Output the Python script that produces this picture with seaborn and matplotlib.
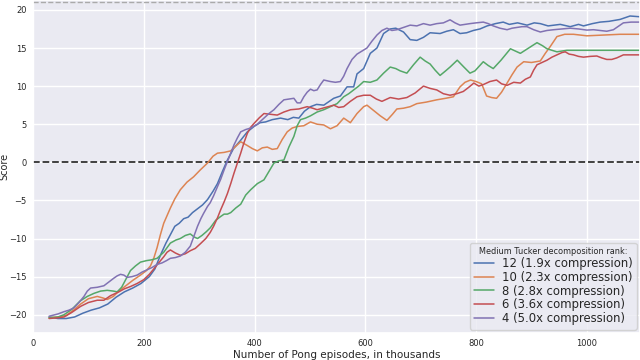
import numpy as np
import pandas as pd
import matplotlib
matplotlib.use("Agg")
import matplotlib.pyplot as plt
import seaborn as sns

labels = ["12 (1.9x compression)", "10 (2.3x compression)", "8 (2.8x compression)",
          "6 (3.6x compression)", "4 (5.0x compression)"]

blue_x = [29,45,60,75,90,105,120,135,150,165,180,195,210,220,230,240,248,256,264,272,280,288,297,306,315,325,333,342,351,362,375,387,399,410,420,432,447,460,470,480,490,501,512,525,543,555,567,579,585,597,609,621,633,645,655,669,681,693,705,717,735,747,759,771,783,795,807,820,835,849,860,875,892,905,916,930,952,970,985,994,1010,1024,1040,1060,1078,1096]
blue_y = [-20.3,-20.5,-20.5,-20.3,-19.8,-19.4,-19.1,-18.6,-17.7,-17.0,-16.5,-15.9,-15.0,-14.0,-12.2,-10.6,-9.5,-8.4,-8.0,-7.4,-7.2,-6.6,-6.1,-5.6,-4.9,-3.8,-2.8,-1.2,0.3,1.8,2.9,4.0,4.7,5.2,5.3,5.6,5.8,5.6,5.9,5.8,6.7,7.3,7.6,7.5,8.4,8.7,9.9,9.9,11.6,12.3,14.3,15.0,16.9,17.5,17.6,17.1,16.1,16.0,16.4,17.0,16.9,17.2,17.4,16.9,17.0,17.3,17.5,17.9,18.2,18.4,18.1,18.3,18.0,18.3,18.2,17.9,18.1,17.8,18.1,17.9,18.2,18.4,18.5,18.75,19.2,19.1]

orange_x = [29,45,60,75,86,100,116,126,134,145,155,164,180,194,205,212,218,224,230,236,242,248,256,266,278,290,302,315,325,333,345,357,366,375,387,396,405,414,423,432,441,450,459,468,477,489,501,513,525,537,549,561,573,585,597,603,615,627,639,649,657,669,681,693,710,729,745,759,771,780,790,800,810,819,828,837,846,856,865,874,886,900,916,925,934,946,960,976,1000,1030,1060,1096]
orange_y = [-20.4,-20.3,-20.1,-19.3,-18.6,-17.9,-17.6,-17.8,-18.0,-17.6,-16.9,-16.4,-15.5,-14.8,-14.2,-13.6,-12.6,-11.2,-9.5,-8.0,-7.0,-6.0,-4.8,-3.6,-2.6,-1.9,-1.0,-0.1,0.8,1.2,1.3,1.5,2.1,2.7,2.2,1.8,1.5,1.9,2.0,1.7,1.8,3.0,4.0,4.5,4.7,4.8,5.3,5.0,4.9,4.4,4.8,5.8,5.2,6.4,7.3,7.5,6.8,6.1,5.5,6.3,7.0,7.1,7.3,7.7,7.9,8.2,8.4,8.6,9.9,10.5,10.8,10.6,10.3,8.7,8.5,8.4,9.2,10.4,11.5,12.5,13.2,13.1,13.3,14.3,15.2,16.5,16.8,16.8,16.6,16.7,16.8,16.8]

green_x = [29,45,56,70,85,98,110,122,134,145,152,160,168,176,185,194,205,214,224,236,248,258,266,275,284,291,297,305,313,320,330,339,345,351,357,366,375,384,393,405,417,426,435,444,453,462,471,477,483,492,501,513,525,537,549,561,570,579,588,597,609,621,633,645,655,663,675,687,699,708,717,726,735,745,753,766,778,789,798,813,822,831,845,862,871,880,895,910,920,928,937,946,964,1000,1050,1096]
green_y = [-20.4,-20.3,-20.0,-19.3,-18.2,-17.6,-17.2,-16.9,-16.8,-16.9,-17.0,-16.4,-15.3,-14.2,-13.6,-13.1,-12.9,-12.8,-12.6,-11.8,-10.6,-10.2,-10.0,-9.6,-9.4,-9.8,-10.0,-9.6,-9.1,-8.6,-7.6,-7.1,-6.8,-6.8,-6.6,-6.0,-5.5,-4.3,-3.6,-2.8,-2.3,-1.2,-0.1,0.2,0.3,2.0,3.4,4.8,5.6,5.8,6.1,6.6,6.9,7.3,7.7,8.6,9.0,9.5,10.0,10.6,10.5,10.8,11.7,12.5,12.3,12.0,11.7,12.8,13.8,13.3,12.9,12.1,11.4,12.0,12.5,13.4,12.5,11.7,12.0,13.2,12.7,12.3,13.4,14.9,14.6,14.3,15.0,15.7,15.3,14.9,14.7,14.5,14.7,14.7,14.7,14.7]

red_x = [29,45,56,70,86,100,116,128,140,155,165,176,188,200,210,218,228,236,242,248,257,266,275,284,293,302,312,320,326,333,339,345,351,357,363,369,375,381,387,393,399,408,417,429,441,453,465,480,495,505,513,528,543,552,561,573,585,597,609,620,630,645,660,675,690,705,717,729,741,753,765,777,786,796,805,813,825,837,846,856,868,880,889,898,904,910,919,928,937,946,955,961,968,976,985,994,1006,1018,1027,1036,1045,1054,1066,1080,1096]
red_y = [-20.5,-20.4,-20.3,-19.7,-18.9,-18.4,-18.1,-18.1,-17.5,-17.0,-16.6,-16.3,-15.9,-15.4,-14.7,-14.0,-13.1,-12.4,-11.8,-11.5,-11.9,-12.2,-12.0,-11.6,-11.3,-10.7,-10.0,-9.2,-8.4,-7.3,-6.2,-5.2,-4.1,-2.8,-1.4,-0.1,1.2,2.6,3.8,4.6,5.1,5.8,6.4,6.3,6.2,6.6,6.9,7.0,7.3,7.1,6.9,7.2,7.5,7.2,7.3,8.0,8.6,8.8,8.8,8.3,8.0,8.5,8.3,8.5,9.1,10.0,9.7,9.5,9.0,8.8,9.0,9.3,9.8,10.4,10.0,10.2,10.6,10.8,10.3,10.1,10.5,10.4,10.9,11.2,12.1,12.8,13.1,13.4,13.8,14.1,14.4,14.5,14.2,14.1,13.9,13.8,13.9,13.95,13.7,13.5,13.5,13.7,14.1,14.1,14.1]

purple_x = [29,45,56,65,74,83,92,98,104,116,128,137,146,152,158,164,170,179,188,197,206,215,224,233,241,248,257,266,275,284,290,297,303,308,315,320,326,333,339,345,351,357,363,369,375,384,393,405,417,426,435,444,453,462,471,477,483,489,495,501,507,513,519,525,537,546,555,561,567,576,585,594,603,612,621,630,639,648,657,669,681,693,705,717,729,741,753,762,771,780,789,800,813,822,831,843,856,865,874,883,892,904,916,928,940,955,970,985,1000,1012,1024,1036,1048,1058,1066,1080,1096]
purple_y = [-20.2,-19.9,-19.6,-19.4,-19.1,-18.4,-17.6,-16.9,-16.5,-16.4,-16.2,-15.7,-15.2,-14.9,-14.7,-14.8,-15.1,-15.0,-14.8,-14.4,-14.1,-13.8,-13.4,-13.2,-12.9,-12.6,-12.5,-12.3,-11.8,-11.0,-9.8,-8.4,-7.4,-6.7,-5.8,-5.3,-4.4,-3.2,-2.2,-1.0,0.1,1.2,2.3,3.2,4.0,4.3,4.5,5.0,5.8,6.4,6.9,7.6,8.2,8.3,8.4,7.8,7.8,8.6,9.2,9.6,9.4,9.5,10.2,10.8,10.6,10.5,10.6,11.3,12.3,13.5,14.2,14.6,15.0,15.9,16.7,17.3,17.6,17.3,17.4,17.7,18.0,17.9,18.2,18.0,18.2,18.3,18.7,18.3,18.0,18.1,18.2,18.3,18.4,18.2,17.9,17.6,17.4,17.6,17.7,17.8,17.8,17.4,17.1,17.3,17.4,17.5,17.6,17.5,17.35,17.4,17.3,17.2,17.4,17.9,18.3,18.4,18.4]

series = [(blue_x, blue_y), (orange_x, orange_y), (green_x, green_y), (red_x, red_y), (purple_x, purple_y)]
frames = []
for lab, (xs, ys) in zip(labels, series):
    frames.append(pd.DataFrame({"episodes": xs, "score": ys, "rank": lab}))
df = pd.concat(frames, ignore_index=True)

sns.set_theme(style="darkgrid")
fig = plt.figure(figsize=(6.4, 3.6), dpi=100)
ax = fig.add_axes([0.0516, 0.075, 0.9484, 0.925])

sns.lineplot(data=df, x="episodes", y="score", hue="rank", hue_order=labels,
             palette="deep", linewidth=1.1, ax=ax, estimator=None, sort=False)

ax.axhline(0, color="#333333", linestyle="--", linewidth=1.3, zorder=1)
ax.axhline(21, color="#aaaaaa", linestyle="--", linewidth=1.0, zorder=1)

ax.set_xlim(0, 1096)
ax.set_ylim(-22.4, 21.3)
ax.set_xticks([0, 200, 400, 600, 800, 1000])
ax.set_yticks([-20, -15, -10, -5, 0, 5, 10, 15, 20])
ax.tick_params(labelsize=6, length=0, pad=4.5)
ax.set_xlabel("Number of Pong episodes, in thousands", fontsize=7.5, labelpad=1)
ax.set_ylabel("Score", fontsize=7, labelpad=0)

leg = ax.legend(title="Medium Tucker decomposition rank:", loc="lower right",
                fontsize=8.4, title_fontsize=5.9, borderaxespad=0.3,
                handlelength=1.75, handletextpad=0.65, labelspacing=0.08,
                borderpad=0.35)

fig.savefig("out.png", dpi=100)
